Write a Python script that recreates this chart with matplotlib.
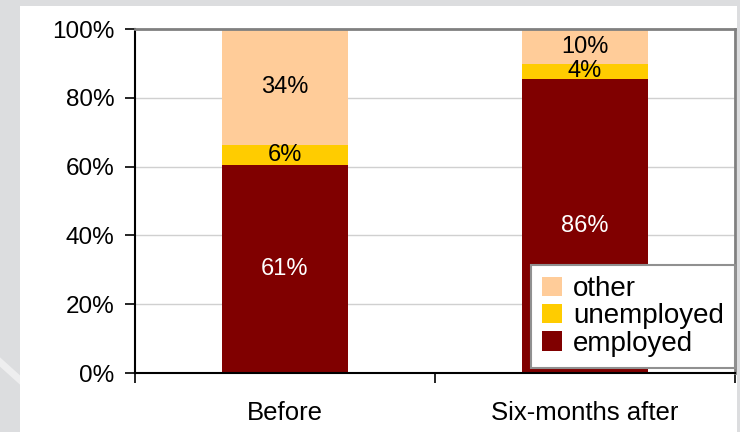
import numpy as np
import matplotlib.pyplot as plt
from matplotlib.patches import Rectangle
from matplotlib.lines import Line2D

plt.rcParams['font.family'] = ['Liberation Sans', 'DejaVu Sans']

periods = ["Before", "Six-months after"]
employed = [60.6, 85.6]
unemployed = [5.6, 4.1]
other = [33.8, 10.3]

series = [("employed", employed, "#800000", "white"),
          ("unemployed", unemployed, "#FFCC00", "black"),
          ("other", other, "#FFCC99", "black")]

fig = plt.figure(figsize=(7.4, 4.32), dpi=100)
fig.patch.set_facecolor("#dcdddf")
# faint decorative stroke in the grey margin
fig.add_artist(Line2D([0, 20 / 740], [1 - 362 / 432, 1 - 380 / 432],
                      transform=fig.transFigure, color="#eeeeef", lw=5,
                      zorder=0))
fig.add_artist(Rectangle((20 / 740, 0), 717 / 740, 426 / 432,
                         transform=fig.transFigure, facecolor="white",
                         edgecolor="none", zorder=0))
ax = fig.add_axes([135 / 740, 1 - 373 / 432, 600 / 740, 344 / 432])
ax.set_facecolor("white")

x = np.arange(len(periods))
bottom = np.zeros(len(periods))
handles = []
for name, vals, col, tcol in series:
    b = ax.bar(x, vals, 0.417, bottom=bottom, color=col, label=name, zorder=2)
    handles.append(b)
    for xi, v, b0 in zip(x, vals, bottom):
        ax.text(xi, b0 + v / 2, f"{v:.0f}%", ha="center", va="center",
                color=tcol, fontsize=17, zorder=3)
    bottom += np.array(vals)

ax.set_xlim(-0.5, 1.5)
ax.set_ylim(0, 100)
ax.set_yticks(np.arange(0, 101, 20))
ax.set_yticklabels([f"{v}%" for v in range(0, 101, 20)], fontsize=17.5)
ax.set_xticks(x)
ax.set_xticklabels(periods, fontsize=18.5)
ax.tick_params(axis="x", length=0, pad=20)
ax.set_xticks([-0.5, 0.5, 1.5], minor=True)
ax.tick_params(axis="x", which="minor", length=7, width=1.2, direction="out")
ax.tick_params(axis="y", length=7, width=1.2, direction="out", pad=8)

for yv in [20, 40, 60, 80]:
    ax.axhline(yv, color="#d0d0d0", lw=1, zorder=1)

ax.spines["left"].set_color("black")
ax.spines["left"].set_linewidth(1.5)
ax.spines["bottom"].set_color("black")
ax.spines["bottom"].set_linewidth(1.5)
ax.spines["top"].set_color("#808080")
ax.spines["top"].set_linewidth(2)
ax.spines["right"].set_color("#808080")
ax.spines["right"].set_linewidth(2)

leg = ax.legend(handles[::-1], [s[0] for s in series][::-1],
                loc="lower right", bbox_to_anchor=(1.0, 0.015),
                fontsize=20, frameon=True, fancybox=False, framealpha=1,
                handlelength=0.7, handleheight=0.7, handletextpad=0.4,
                labelspacing=0.05, borderpad=0.4, borderaxespad=0)
leg.get_frame().set_edgecolor("#909090")
leg.get_frame().set_linewidth(1.5)

plt.savefig("out.png", dpi=100, facecolor=fig.get_facecolor())
